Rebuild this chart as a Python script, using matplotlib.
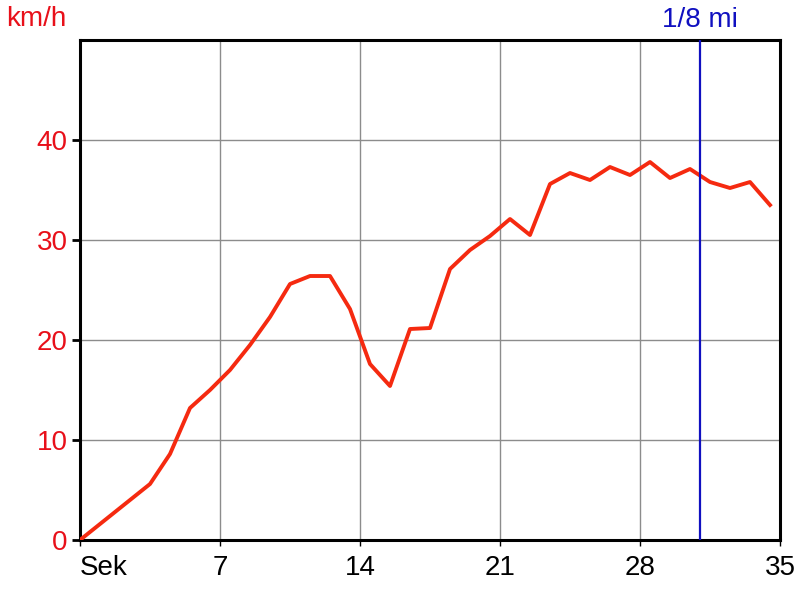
import numpy as np
import matplotlib
matplotlib.use('Agg')
import matplotlib.pyplot as plt

plt.rcParams['font.family'] = ['Liberation Sans', 'DejaVu Sans']

# speed (km/h) over time (s)
secs = [0, 1.5, 2.5, 3.5, 4.5, 5.5, 6.5, 7.5, 8.5, 9.5, 10.5, 11.5, 12.5,
        13.5, 14.5, 15.5, 16.5, 17.5, 18.5, 19.5, 20.5, 21.5, 22.5, 23.5,
        24.5, 25.5, 26.5, 27.5, 28.5, 29.5, 30.5, 31.5, 32.5, 33.5, 34.5]
speed = [0, 2.4, 4.0, 5.6, 8.6, 13.2, 15.0, 17.0, 19.5, 22.3, 25.6, 26.4, 26.4,
         23.1, 17.6, 15.4, 21.1, 21.2, 27.1, 29.0, 30.4, 32.1, 30.5, 35.6,
         36.7, 36.0, 37.3, 36.5, 37.8, 36.2, 37.1, 35.8, 35.2, 35.8, 33.5]
mark_x = 31.0
mark_label = '1/8 mi'
xticks = [0, 7, 14, 21, 28, 35]
xlabels = ['Sek', '7', '14', '21', '28', '35']
yticks = [0, 10, 20, 30, 40]

red = '#e8101a'
fig = plt.figure(figsize=(8, 6), dpi=100)
ax = fig.add_axes([0.1, 0.1, 0.875, 0.8333])

ax.plot(secs, speed, color='#f52a10', lw=2.8, zorder=3)
ax.axvline(mark_x, color='#1010c0', lw=1.6, zorder=4)

ax.set_xlim(0, 35)
ax.set_ylim(0, 50)
ax.set_xticks(xticks)
ax.set_xticklabels(xlabels)
ax.set_yticks(yticks)
ax.grid(True, color='#8c8c8c', lw=1)
ax.set_axisbelow(True)

for s in ax.spines.values():
    s.set_linewidth(2.2)
    s.set_color('black')

ax.tick_params(axis='y', colors='black', labelcolor=red, labelsize=20,
               length=6, width=2, pad=3)
ax.tick_params(axis='x', colors='black', labelsize=20, length=4, width=1, pad=7)
ax.get_xticklabels()[0].set_horizontalalignment('left')

fig.text(0.008, 0.968, 'km/h', color=red, fontsize=20, ha='left', va='center')
ax.text(mark_x, 1.015, mark_label, color='#1010c0', fontsize=20,
        ha='center', va='bottom', transform=ax.get_xaxis_transform())

fig.savefig('out.png', dpi=100)
